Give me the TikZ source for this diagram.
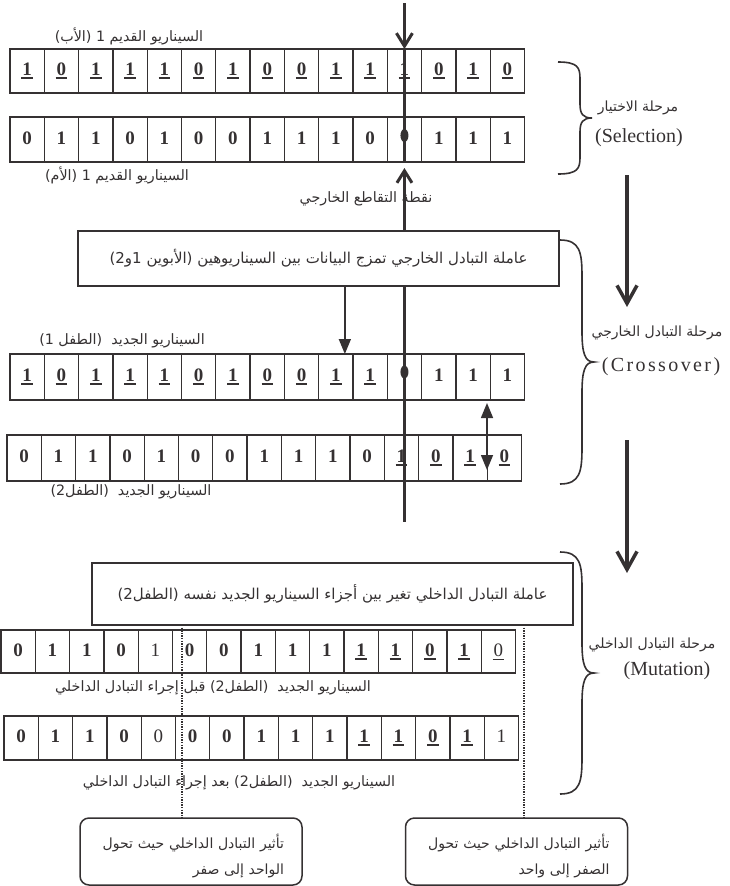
\documentclass[tikz,border=0pt]{standalone}
\usepackage{fontspec}
\setmainfont{Liberation Serif}
\newfontfamily\arabicfont[Script=Arabic]{DejaVu Sans}
\TeXXeTstate=1
\usetikzlibrary{arrows.meta}
\usetikzlibrary{positioning}

\definecolor{ink}{cmyk}{0.00,0.00,0.00,0.92}

% cell contents: b bold, l light, u bold underlined, v light underlined, d hidden
\newcommand*{\bitb}[1]{\textbf{#1}}
\newcommand*{\bitl}[1]{#1}
\newcommand*{\bitu}[1]{\setbox0\hbox{\textbf{#1}}\rlap{\kern-1pt\rule[-3.5pt]{\dimexpr\wd0+2pt}{1.8pt}}\box0}
\newcommand*{\bitv}[1]{\setbox0\hbox{#1}\rlap{\kern-1pt\rule[-3.5pt]{\dimexpr\wd0+2pt}{1pt}}\box0}
\newcommand*{\bitd}[1]{}

% one scenario: name, left x, centre y, height, cells
\newcommand*{\bitrow}[5]{%
  \foreach \s/\v [count=\i] in {#5}
    \node [cell, minimum height=#4] (#1-\i) at ({#2+(\i-0.5)*34.3}, #3) {\csname bit\s\endcsname{\v}};%
}

% curly brace: x, top y, half height, name of the tip
\newcommand*{\phasebrace}[4]{%
  \draw [brace] (#1,#2) .. controls +(20,0) and +(0,{-0.2*#3}) .. ++(22,{0.3*#3})
    -- ++(0,{0.45*#3}) .. controls +(0,{0.18*#3}) and +(-9,0) .. ++(12,{0.25*#3}) coordinate (#4)
    .. controls +(-9,0) and +(0,{-0.18*#3}) .. ++(-12,{0.25*#3})
    -- ++(0,{0.45*#3}) .. controls +(0,{0.2*#3}) and +(20,0) .. ++(-22,{0.3*#3});%
}

\tikzstyle{base}=[x=1pt, y=-1pt, inner sep=0pt, outer sep=0pt, ink]
\tikzstyle{cell}=[draw, line width=1.3pt, minimum width=34.3pt, text height=13.5pt, text depth=4pt, font=\fontsize{19}{19}\selectfont]
\tikzstyle{lbl}=[font=\arabicfont\fontsize{14.3}{16}\selectfont]
\tikzstyle{opbox}=[draw, line width=2pt, minimum width=481pt, font=\arabicfont\fontsize{15}{17}\selectfont]
\tikzstyle{effbox}=[draw, line width=1.5pt, rounded corners=9pt, minimum width=222pt, minimum height=67pt, text width=186pt, align=right, font=\arabicfont\fontsize{14}{26}\selectfont]
\tikzstyle{mainline}=[line width=3pt]
\tikzstyle{thinarrow}=[line width=1.5pt]
\tikzstyle{phasearrow}=[line width=3.5pt, -{Straight Barb[length=18pt,width=20pt]}]
\tikzstyle{brace}=[line width=1.6pt]
\tikzstyle{phase}=[font=\arabicfont\fontsize{14}{16}\selectfont]
\tikzstyle{phaselatin}=[font=\fontsize{20}{22}\selectfont]
\tikzstyle{dots}=[line width=1.3pt, dash pattern=on 1.3pt off 1.3pt]

\begin{document}
\begin{tikzpicture}[base]
    \useasboundingbox (0,0) rectangle (729,886);

    % selection: the two old scenarios
    \bitrow{fa}{10}{71}{44pt}{u/1,u/0,u/1,u/1,u/1,u/0,u/1,u/0,u/0,u/1,u/1,u/1,u/0,u/1,u/0}
    \bitrow{mo}{10}{139.5}{45pt}{b/0,b/1,b/1,b/0,b/1,b/0,b/0,b/1,b/1,b/1,b/0,d/0,b/1,b/1,b/1}
    \node [lbl] (fa-lbl) at (129,36) {\beginR السيناريو القديم 1 (الأب)\endR};
    \node [lbl] (mo-lbl) at (117,175) {\beginR السيناريو القديم 1 (الأم)\endR};
    \node [lbl] (cut-lbl) at (366,199) {\beginR نقطة التقاطع الخارجي\endR};

    % crossover
    \node [opbox, minimum height=55pt] (crossbox) at (318.5,258.5)
        {\beginR عاملة التبادل الخارجي تمزج البيانات بين السيناريوهين (الأبوين 1و2)\endR};
    \bitrow{ca}{10}{377}{46pt}{u/1,u/0,u/1,u/1,u/1,u/0,u/1,u/0,u/0,u/1,u/1,d/0,b/1,b/1,b/1}
    \bitrow{cb}{7}{458}{46pt}{b/0,b/1,b/1,b/0,b/1,b/0,b/0,b/1,b/1,b/1,b/0,u/1,u/0,u/1,u/0}
    \node [lbl] (ca-lbl) at (122,341) {\beginR السيناريو الجديد\ \ (الطفل 1)\endR};
    \node [lbl] (cb-lbl) at (131,492) {\beginR السيناريو الجديد\ \ (الطفل2)\endR};

    % mutation
    \node [opbox, minimum height=62pt] (mutbox) at (332.5,594)
        {\beginR عاملة التبادل الداخلي تغير بين أجزاء السيناريو الجديد نفسه (الطفل2)\endR};
    \bitrow{mb}{1}{651.5}{43pt}{b/0,b/1,b/1,b/0,l/1,b/0,b/0,b/1,b/1,b/1,u/1,u/1,u/0,u/1,v/0}
    \bitrow{ma}{4}{738}{44pt}{b/0,b/1,b/1,b/0,l/0,b/0,b/0,b/1,b/1,b/1,u/1,u/1,u/0,u/1,l/1}
    \node [lbl] (mb-lbl) at (213,688) {\beginR السيناريو الجديد\ \ (الطفل2) قبل إجراء التبادل الداخلي\endR};
    \node [lbl] (ma-lbl) at (239,783) {\beginR السيناريو الجديد\ \ (الطفل2) بعد إجراء التبادل الداخلي\endR};
    \node [effbox] (eff-one) at (191,851.5)
        {\rule{0pt}{24pt}\beginR تأثير التبادل الداخلي حيث تحول\endR\\\beginR الواحد إلى صفر\endR};
    \node [effbox] (eff-zero) at (516.5,851.5)
        {\rule{0pt}{24pt}\beginR تأثير التبادل الداخلي حيث تحول\endR\\\beginR الصفر إلى واحد\endR};

    % crossing point
    \fill ([yshift=4pt]mo-12.center) ellipse (4 and 6.5);
    \fill ([yshift=5pt]ca-12.center) ellipse (4 and 6.5);
    \coordinate (drop) at ([yshift=46pt]fa-12.north);
    \coordinate (cutend) at (fa-12 |- 0,522);
    \draw [mainline, -{Straight Barb[length=13pt,width=16pt]}] (drop) -- (fa-12.north);
    \draw [mainline] (fa-12.north) -- (mo-12.south);
    \draw [mainline, -{Straight Barb[length=12pt,width=15pt]}] (crossbox.north -| mo-12) -- ([yshift=-6pt]mo-12.south);
    \draw [mainline] (crossbox.south -| fa-12) -- (cutend);

    % operator arrows
    \coordinate (mixin) at ([xshift=9pt]ca-10.north);
    \draw [thinarrow, -{Triangle[length=15pt,width=12pt]}] (mixin |- crossbox.south) -- (mixin);
    \coordinate (swaptop) at (487,403);
    \coordinate (swapbot) at (487,470);
    \draw [thinarrow, {Triangle[length=15pt,width=12pt]}-{Triangle[length=15pt,width=12pt]}] (swaptop) -- (swapbot);

    % mutated positions
    \coordinate (flipa) at (182,625);
    \coordinate (flipb) at (524,625);
    \draw [dots] (flipa) -- (flipa |- eff-one.north);
    \draw [dots] (flipb) -- (flipb |- eff-zero.north);

    % phases
    \phasebrace{558}{62}{56}{selTip}
    \phasebrace{560}{240}{122}{crossTip}
    \phasebrace{560}{552}{121}{mutTip}
    \node [phase] (sel-lbl) at ([xshift=46pt, yshift=10pt]selTip) {\beginR مرحلة الاختيار\endR};
    \node [phaselatin] (sel-en) at ([xshift=47pt, yshift=-20pt]selTip) {(Selection)};
    \node [phase] (cross-lbl) at ([xshift=63pt, yshift=29pt]crossTip) {\beginR مرحلة التبادل الخارجي\endR};
    \node [phaselatin] (cross-en) at ([xshift=67pt, yshift=-5pt]crossTip) {\addfontfeature{LetterSpace=12}(Crossover)};
    \node [phase] (mut-lbl) at ([xshift=58pt, yshift=28pt]mutTip) {\beginR مرحلة التبادل الداخلي\endR};
    \node [phaselatin] (mut-en) at ([xshift=73pt, yshift=2pt]mutTip) {(Mutation)};
    \coordinate (sel-end) at (627,175);
    \coordinate (cross-start) at (627,307);
    \coordinate (cross-end) at (627,440);
    \coordinate (mut-start) at (627,573);
    \draw [phasearrow] (sel-end) -- (cross-start);
    \draw [phasearrow] (cross-end) -- (mut-start);
\end{tikzpicture}
\end{document}
